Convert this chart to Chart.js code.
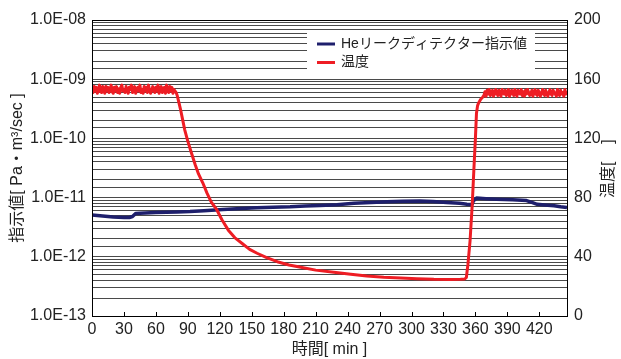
<!DOCTYPE html>
<html>
<head>
<meta charset="utf-8">
<script src="https://cdn.jsdelivr.net/npm/chart.js@4"></script>
<style>
  html, body { margin: 0; padding: 0; background: #fff; }
</style>
</head>
<body>
<canvas id="leakChart" width="621" height="359"></canvas>
<script>
// He leak detector reading vs. temperature

// He detector reading [Pa·m3/sec], left (log) axis
const leakTimes = [0, 5, 10, 15, 20, 25, 30, 35, 38, 41, 45, 50, 60, 70, 80, 92, 105, 123, 140, 155, 170, 186, 200, 214, 230, 246, 262, 277, 292, 308, 320, 333, 345, 352, 355, 357, 358, 361, 370, 380, 395, 408, 413, 418, 425, 434, 440, 446];
const leakValues = [5.1e-12, 5.0e-12, 4.9e-12, 4.8e-12, 4.7e-12, 4.65e-12, 4.6e-12, 4.62e-12, 4.8e-12, 5.4e-12, 5.45e-12, 5.5e-12, 5.6e-12, 5.65e-12, 5.7e-12, 5.8e-12, 6.0e-12, 6.3e-12, 6.55e-12, 6.75e-12, 6.9e-12, 7.0e-12, 7.2e-12, 7.35e-12, 7.6e-12, 8.0e-12, 8.25e-12, 8.5e-12, 8.65e-12, 8.75e-12, 8.6e-12, 8.3e-12, 8.0e-12, 7.7e-12, 7.65e-12, 7.7e-12, 8.8e-12, 9.8e-12, 9.6e-12, 9.4e-12, 9.2e-12, 8.9e-12, 8.3e-12, 7.7e-12, 7.5e-12, 7.3e-12, 7.0e-12, 6.8e-12];

// temperature, right axis: first plateau (1 min steps from 0)
const tempPlateau1Start = 0;
const tempPlateau1 = [153, 151, 155, 152, 154.5, 150.5, 153, 156, 151.5, 151, 155, 153, 150.5, 155, 152, 154.5, 151, 153, 156, 151.5, 150.5, 154.5, 152, 155, 151, 153.5, 150.5, 154.5, 156, 152, 153, 151, 155, 152, 150.5, 154.5, 153, 156, 151, 152, 155, 150.5, 153, 154.5, 152, 156, 151, 153, 150.5, 155, 152, 154.5, 151, 156, 153, 150.5, 152, 155, 153, 151, 154.5, 152, 156, 150.5, 153, 155, 151, 152, 154.5, 150.5, 156, 153, 151, 155, 152, 154.5, 150.5, 153];
// cool down and heat up
const tempRampTimes = [78, 79, 80, 81, 83, 85, 87, 90, 93, 97, 100, 104, 108, 112, 117, 122, 128, 134, 141, 148, 155, 164, 174, 185, 196, 210, 227, 243, 258, 274, 290, 305, 321, 336, 346, 350, 351.5, 353, 355, 357, 358.5, 360, 361, 362, 363, 365, 367];
const tempRampValues = [152, 151, 149, 146, 140, 133, 126, 118, 111, 102, 96, 90, 83, 77, 72, 65, 58, 53, 49, 45, 42.4, 39.5, 36.7, 34.5, 33, 31, 29.5, 28.2, 27, 26.2, 25.7, 25.2, 24.8, 24.7, 24.8, 25, 26, 35, 51, 75, 98, 120, 137, 142, 144, 146.5, 148];
// second plateau (1 min steps from 368)
const tempPlateau2Start = 368;
const tempPlateau2 = [149, 151.5, 148.5, 152.5, 150, 153, 149, 151, 152.5, 148.5, 150, 153, 151, 149, 152.5, 150, 148.5, 153, 151, 150, 152.5, 149, 151, 153, 148.5, 150, 152.5, 151, 149, 153, 150, 148.5, 152.5, 151, 150, 153, 149, 151.5, 148.5, 152.5, 150, 153, 151, 149, 150, 152.5, 148.5, 151, 153, 150, 149, 152.5, 151, 148.5, 150, 153, 151, 149, 152.5, 150, 148.5, 151, 153, 150, 149, 152.5, 151, 150, 148.5, 153, 151, 149, 152.5, 150, 151, 148.5, 153, 150, 152];

const xTickValues = [0, 30, 60, 90, 120, 150, 180, 210, 240, 270, 300, 330, 360, 390, 420];
const tempTickValues = [0, 40, 80, 120, 160, 200];

const leakLabel = 'Heリークディテクター指示値';
const tempLabel = '温度';
const navy = '#1e1f6c';
const red = '#ee1d24';

const leakPoints = leakTimes.map((t, i) => ({ x: t, y: leakValues[i] }));
const tempPoints = []
    .concat(tempPlateau1.map((v, i) => ({ x: tempPlateau1Start + i, y: v })))
    .concat(tempRampTimes.map((t, i) => ({ x: t, y: tempRampValues[i] })))
    .concat(tempPlateau2.map((v, i) => ({ x: tempPlateau2Start + i, y: v })));

Chart.defaults.font.family = "'Liberation Sans', 'Noto Sans CJK JP', sans-serif";
Chart.defaults.color = '#222';

function sciLabel(v) {
    const e = Math.round(Math.log10(v));
    if (Math.abs(v / Math.pow(10, e) - 1) > 1e-6) return '';
    const p = Math.abs(e);
    return '1.0E' + (e < 0 ? '-' : '+') + (p < 10 ? '0' + p : p);
}

// frame, inner x ticks, right title and legend box
const extras = {
    id: 'extras',
    afterDraw(chart) {
        const ctx = chart.ctx;
        const a = chart.chartArea;
        const xs = chart.scales.x;
        ctx.save();
        ctx.strokeStyle = '#000';
        ctx.lineWidth = 1;
        ctx.strokeRect(Math.round(a.left) + 0.5, Math.round(a.top) + 0.5,
            Math.round(a.right - a.left), Math.round(a.bottom - a.top));
        xTickValues.forEach(v => {
            const px = Math.round(xs.getPixelForValue(v)) + 0.5;
            ctx.beginPath();
            ctx.moveTo(px, a.bottom);
            ctx.lineTo(px, a.bottom - 4);
            ctx.stroke();
        });

        // right axis title
        ctx.fillStyle = '#222';
        ctx.font = "16px 'Liberation Sans', 'Noto Sans CJK JP', sans-serif";
        ctx.translate(609, 198);
        ctx.rotate(-Math.PI / 2);
        ctx.textAlign = 'left';
        ctx.textBaseline = 'middle';
        ctx.fillText('温度[    ]', 0, 0);
        ctx.restore();

        // legend
        ctx.save();
        ctx.fillStyle = '#fff';
        ctx.fillRect(307, 31, 228, 39);
        ctx.font = "14px 'Liberation Sans', 'Noto Sans CJK JP', sans-serif";
        ctx.textBaseline = 'middle';
        ctx.textAlign = 'left';
        [[leakLabel, navy, 44], [tempLabel, red, 62.5]].forEach(([label, color, y]) => {
            ctx.strokeStyle = color;
            ctx.lineWidth = 3;
            ctx.beginPath();
            ctx.moveTo(317, y);
            ctx.lineTo(335, y);
            ctx.stroke();
            ctx.fillStyle = '#222';
            ctx.fillText(label, 341, y);
        });
        ctx.restore();
    }
};

const ctx = document.getElementById('leakChart').getContext('2d');
new Chart(ctx, {
    type: 'line',
    data: {
        datasets: [
            {
                label: tempLabel,
                data: tempPoints,
                yAxisID: 'y2',
                borderColor: red,
                borderWidth: 3,
                borderJoinStyle: 'round',
                pointRadius: 0,
                tension: 0,
                order: 0
            },
            {
                label: leakLabel,
                data: leakPoints,
                yAxisID: 'y',
                borderColor: navy,
                borderWidth: 3.5,
                borderJoinStyle: 'round',
                pointRadius: 0,
                tension: 0,
                order: 1
            }
        ]
    },
    options: {
        responsive: false,
        animation: false,
        devicePixelRatio: 1,
        layout: { padding: { top: 20, left: 0, right: 0, bottom: 0 } },
        plugins: {
            legend: { display: false },
            tooltip: { enabled: false }
        },
        scales: {
            x: {
                type: 'linear',
                min: 0,
                max: 446,
                afterBuildTicks: s => { s.ticks = xTickValues.map(v => ({ value: v })); },
                afterFit: s => { s.height = 43; },
                grid: { display: false, drawTicks: false, tickLength: 0 },
                border: { display: false },
                ticks: { font: { size: 16 }, padding: 4, maxRotation: 0, autoSkip: false },
                title: {
                    display: true,
                    text: '時間[ min ]',
                    font: { size: 16, lineHeight: 1.2 },
                    padding: { top: 0, bottom: 0 }
                }
            },
            y: {
                type: 'logarithmic',
                position: 'left',
                min: 1e-13,
                max: 1e-8,
                afterFit: s => { s.width = 92; },
                grid: { color: '#4a4a4a', lineWidth: 1, drawTicks: false },
                border: { display: false },
                ticks: {
                    autoSkip: false,
                    padding: 6,
                    font: { size: 16 },
                    callback: v => sciLabel(v)
                },
                title: {
                    display: true,
                    text: '指示値[ Pa・m³/sec ]',
                    font: { size: 16, lineHeight: 1.2 },
                    padding: { top: 8, bottom: 0 }
                }
            },
            y2: {
                type: 'linear',
                position: 'right',
                min: 0,
                max: 200,
                afterBuildTicks: s => { s.ticks = tempTickValues.map(v => ({ value: v })); },
                afterFit: s => { s.width = 54; },
                grid: { drawOnChartArea: false, drawTicks: false },
                border: { display: false },
                ticks: { padding: 7, font: { size: 16 } }
            }
        }
    },
    plugins: [extras]
});
</script>
</body>
</html>
